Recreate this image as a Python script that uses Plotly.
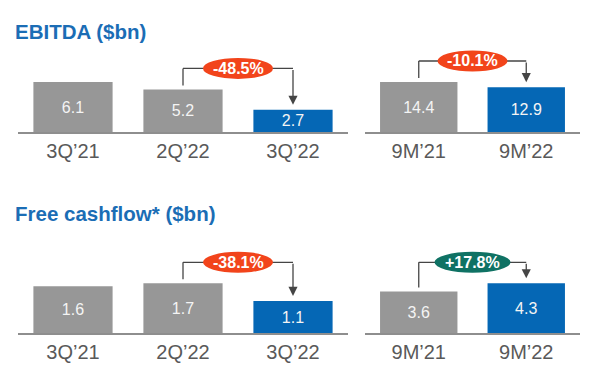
import plotly.graph_objects as go

# ---- data ----
quarter_labels = ["3Q\u201921", "2Q\u201922", "3Q\u201922"]
ytd_labels = ["9M\u201921", "9M\u201922"]
ebitda_quarter = [6.1, 5.2, 2.7]
ebitda_ytd = [14.4, 12.9]
fcf_quarter = [1.6, 1.7, 1.1]
fcf_ytd = [3.6, 4.3]
ebitda_quarter_change = "-48.5%"
ebitda_ytd_change = "-10.1%"
fcf_quarter_change = "-38.1%"
fcf_ytd_change = "+17.8%"
titles = ["EBITDA ($bn)", "Free cashflow* ($bn)"]

# ---- styles ----
GRAY = "#979797"
BLUE = "#0567B5"
RED = "#F2441B"
GREEN = "#0F7264"
TITLE_BLUE = "#1B6DB5"
AXIS = "#8E8E8E"
TICK = "#595959"
BRACKET = "#454545"
FONT = "Liberation Sans, Arial, sans-serif"

W, H = 600, 383
PLOT_H = 100  # px height of each plot area
MAX_BAR_PX = 50

panels = [
    dict(cats=quarter_labels, vals=ebitda_quarter, change=ebitda_quarter_change, pill=RED,
         x_px=(18, 348), axis_y=132, pair=(1, 2), pill_w=70),
    dict(cats=ytd_labels, vals=ebitda_ytd, change=ebitda_ytd_change, pill=RED,
         x_px=(365, 580), axis_y=132, pair=(0, 1), pill_w=70),
    dict(cats=quarter_labels, vals=fcf_quarter, change=fcf_quarter_change, pill=RED,
         x_px=(18, 348), axis_y=333.3, pair=(1, 2), pill_w=70),
    dict(cats=ytd_labels, vals=fcf_ytd, change=fcf_ytd_change, pill=GREEN,
         x_px=(365, 580), axis_y=333.3, pair=(0, 1), pill_w=76),
]

fig = go.Figure()
shapes = []
annotations = []
layout_axes = {}

for i, p in enumerate(panels, start=1):
    xa = "x" if i == 1 else f"x{i}"
    ya = "y" if i == 1 else f"y{i}"
    n = len(p["cats"])
    colors = [GRAY] * (n - 1) + [BLUE]
    fig.add_trace(go.Bar(
        x=p["cats"], y=p["vals"], xaxis=xa, yaxis=ya,
        marker=dict(color=colors, line=dict(width=0)),
        text=[f"{v:.1f}" for v in p["vals"]], textposition="inside",
        insidetextanchor="middle", constraintext="none",
        textfont=dict(family=FONT, size=16, color="#F4F4F4"),
        hoverinfo="skip", showlegend=False,
    ))
    vmax = max(p["vals"])
    yrange_top = vmax * PLOT_H / MAX_BAR_PX
    ppu = PLOT_H / yrange_top
    x0p, x1p = p["x_px"]
    bottom = (H - p["axis_y"]) / H
    top = (H - p["axis_y"] + PLOT_H) / H
    layout_axes["xaxis" if i == 1 else f"xaxis{i}"] = dict(
        domain=[x0p / W, x1p / W], anchor=ya, type="category",
        range=[-0.5, n - 0.5], showline=True, linecolor=AXIS, linewidth=2,
        ticks="", showgrid=False, zeroline=False, fixedrange=True,
        tickfont=dict(family=FONT, size=20, color=TICK),
    )
    layout_axes["yaxis" if i == 1 else f"yaxis{i}"] = dict(
        domain=[bottom, top], anchor=xa, range=[0, yrange_top],
        visible=False, fixedrange=True,
    )
    a, b = p["pair"]
    va, vb = p["vals"][a], p["vals"][b]
    y_start = va + 4 / ppu
    y_level = max(va, vb) + 21 / ppu
    y_tip = vb + 5 / ppu
    mid = (a + b) / 2
    shapes.append(dict(type="line", xref=xa, yref=ya, x0=a, x1=a, y0=y_start, y1=y_level,
                       line=dict(color=BRACKET, width=1.3)))
    shapes.append(dict(type="line", xref=xa, yref=ya, x0=a, x1=b, y0=y_level, y1=y_level,
                       line=dict(color=BRACKET, width=1.3)))
    shapes.append(dict(type="circle", xref=xa, yref=ya, xsizemode="pixel", ysizemode="pixel",
                       xanchor=mid, yanchor=y_level, x0=-p["pill_w"] / 2, x1=p["pill_w"] / 2,
                       y0=-10.5, y1=10.5, fillcolor=p["pill"], line=dict(width=0)))
    annotations.append(dict(xref=xa, yref=ya, x=b, y=y_tip, ax=b, ay=y_level,
                            axref=xa, ayref=ya, text="", showarrow=True,
                            arrowhead=2, arrowsize=1.4, arrowwidth=1.3,
                            arrowcolor=BRACKET, standoff=0, startstandoff=0))
    annotations.append(dict(xref=xa, yref=ya, x=mid, y=y_level, text=f"<b>{p['change']}</b>",
                            showarrow=False, xanchor="center", yanchor="middle",
                            font=dict(family=FONT, size=16, color="white")))

for t, yc in zip(titles, [32, 213]):
    annotations.append(dict(xref="paper", yref="paper", x=13 / W, y=1 - yc / H,
                            xanchor="left", yanchor="middle", text=f"<b>{t}</b>",
                            showarrow=False,
                            font=dict(family=FONT, size=20.5, color=TITLE_BLUE)))

fig.update_layout(
    width=W, height=H, margin=dict(l=0, r=0, t=0, b=0),
    paper_bgcolor="white", plot_bgcolor="rgba(0,0,0,0)",
    bargap=0.28, shapes=shapes, annotations=annotations,
    font=dict(family=FONT),
    **layout_axes,
)

fig.write_html("out.html", config={"displayModeBar": False},
               post_script="document.body.style.margin='0';")
